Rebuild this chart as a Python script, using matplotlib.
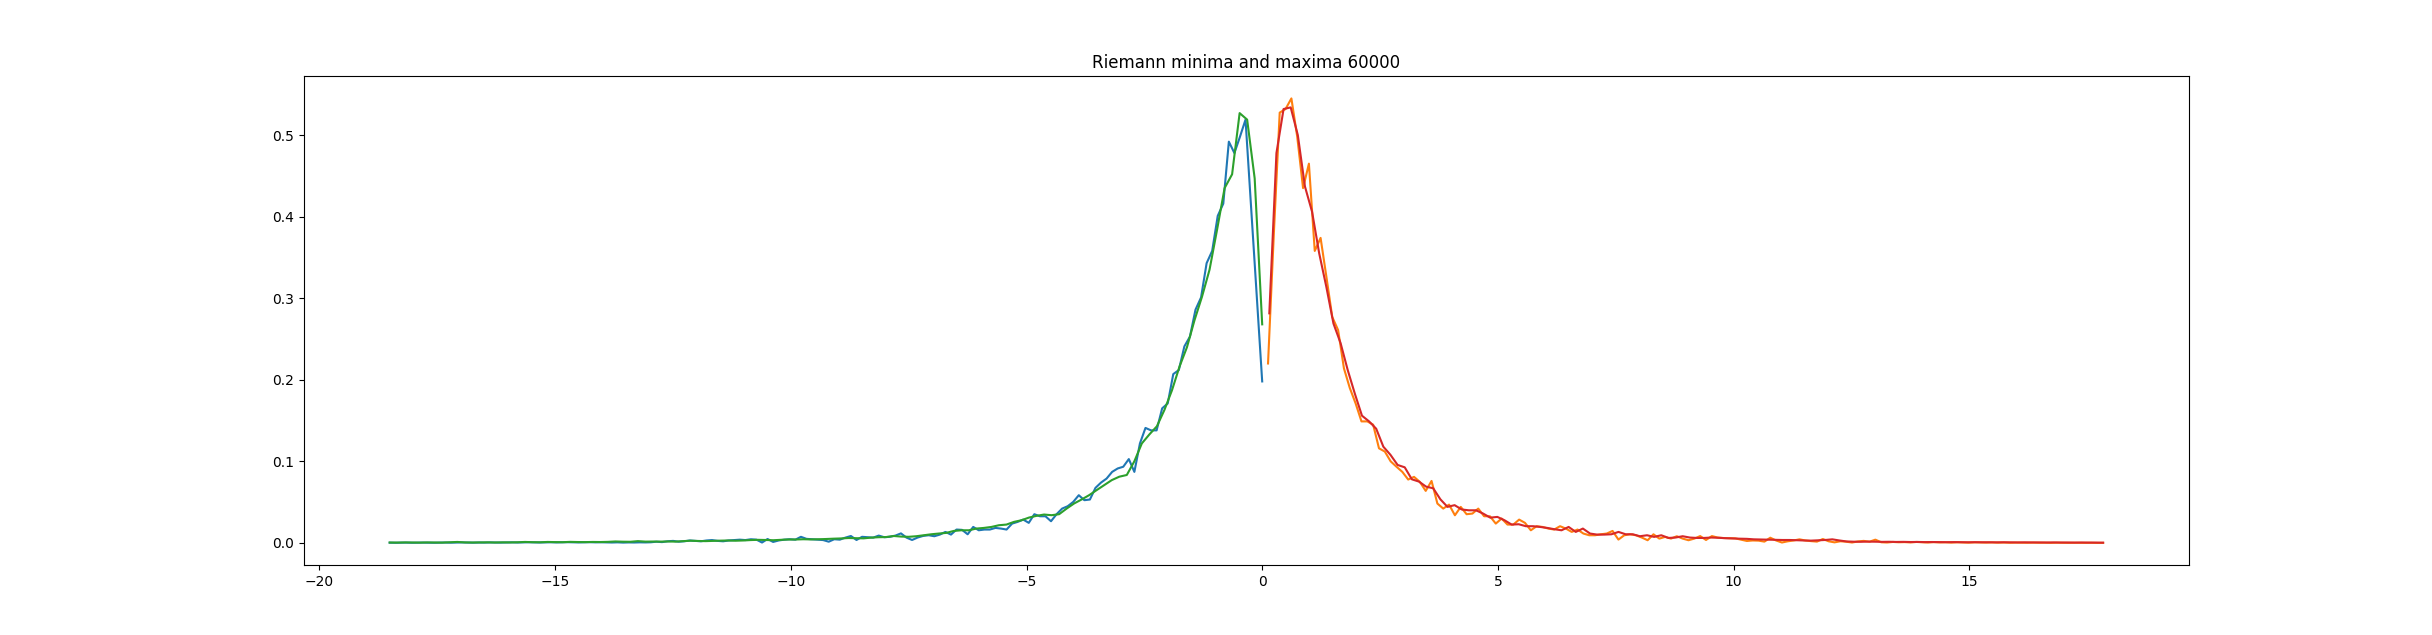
import matplotlib
matplotlib.use("Agg")
import matplotlib.pyplot as plt
import numpy as np

# histogram curves (x = right bin edges)
minima_fine = [
    0.0003, 0.0002, 0.0003, 0.0004, 0.0002, 0.0003, 0.0004, 0.0003, 0.0002, 0.0004,
    0.0005, 0.0003, 0.0004, 0.0006, 0.0004, 0.0003, 0.0005, 0.0004, 0.0006, 0.0005,
    0.0004, 0.0006, 0.0007, 0.0005, 0.0006, 0.0008, 0.0006, 0.0005, 0.0007, 0.0008,
    0.0006, 0.0007, 0.0009, 0.0007, 0.0006, 0.0008, 0.0009, 0.0007, 0.0008, 0.0006,
    0.0005, 0.0007, 0.0004, 0.0006, 0.0005, 0.0007, 0.0006, 0.0008,
    0.0015, 0.001, 0.002, 0.0025, 0.0015, 0.002, 0.003, 0.0025, 0.002, 0.003,
    0.0035, 0.0025, 0.002, 0.003, 0.0035, 0.004, 0.0035, 0.0045, 0.004, 0.0005,
    0.0048, 0.0012, 0.003, 0.004, 0.0045, 0.004, 0.0075, 0.005, 0.0045, 0.004,
    0.0035, 0.0015, 0.0045, 0.004, 0.0065, 0.0085, 0.0036, 0.0075, 0.007, 0.0065,
    0.009, 0.007, 0.0075, 0.009, 0.0117,
    0.0065, 0.0036, 0.0066, 0.0086, 0.0094, 0.0082, 0.0102, 0.0135, 0.0102, 0.0164,
    0.0160, 0.0106, 0.0196, 0.0155, 0.0164, 0.0164, 0.0184, 0.0176, 0.0164, 0.0237,
    0.0258, 0.0286, 0.0246, 0.0352, 0.0327, 0.0327, 0.0266, 0.0352, 0.0421, 0.045,
    0.0503, 0.0585, 0.0524, 0.0532, 0.0675, 0.074, 0.0789, 0.0871, 0.0913, 0.0934,
    0.1028, 0.0871, 0.122, 0.141, 0.138, 0.138,
    0.165, 0.171, 0.207, 0.212, 0.241, 0.253, 0.286, 0.301, 0.343, 0.358,
    0.401, 0.416, 0.492, 0.478, 0.498, 0.519, 0.412, 0.305, 0.198,
]

maxima_fine = [
    0.220, 0.38, 0.5276, 0.532, 0.545, 0.498, 0.435, 0.465, 0.358, 0.374,
    0.326, 0.277, 0.261, 0.214, 0.19, 0.171, 0.149, 0.149, 0.145, 0.116,
    0.112, 0.1, 0.0934, 0.0871, 0.0777, 0.081, 0.0748, 0.0638, 0.076, 0.0483,
    0.0421, 0.047, 0.0339, 0.0442, 0.0352, 0.036, 0.0421, 0.0327, 0.0327, 0.0237,
    0.0299, 0.0225, 0.0225, 0.0286, 0.0246, 0.0155, 0.0205, 0.0196, 0.0176, 0.0164,
    0.0205, 0.0176, 0.0135, 0.0164, 0.0115, 0.0094, 0.0094, 0.0106, 0.0115, 0.0147,
    0.0041, 0.0094, 0.0106, 0.0094, 0.0066, 0.0033, 0.0106, 0.0053, 0.0074, 0.0053,
    0.0082, 0.0053, 0.0033, 0.0053,
    0.0084, 0.0036, 0.0084, 0.0066, 0.006, 0.0058, 0.0056, 0.004, 0.0024, 0.003,
    0.0028, 0.0016, 0.0064, 0.003, 0.0005, 0.002, 0.003, 0.0044, 0.003, 0.0022,
    0.0016, 0.0048, 0.002, 0.0007, 0.002, 0.0015, 0.0005, 0.0018, 0.0025, 0.0015,
    0.004, 0.0008, 0.0005,
    0.0012, 0.0008, 0.001, 0.0006, 0.0012, 0.0008, 0.0005, 0.001, 0.0006, 0.0008,
    0.0004, 0.0008, 0.0006, 0.0003, 0.0007, 0.0005, 0.0004, 0.0006, 0.0003, 0.0005,
    0.0002, 0.0004, 0.0003, 0.0002, 0.0004, 0.0002, 0.0003, 0.0001, 0.0003, 0.0002,
    0.0001, 0.0002, 0.0001, 0.0001, 0.0002, 0.0, 0.0001,
]

minima_coarse = [
    0.0005, 0.0004, 0.0006, 0.0005, 0.0004, 0.0006, 0.0005, 0.0004, 0.0008, 0.0012,
    0.0006, 0.0005, 0.0006, 0.0007, 0.0005, 0.0007, 0.0006, 0.0008, 0.0012, 0.0009,
    0.0008, 0.0012, 0.001, 0.0009, 0.0013, 0.0011, 0.001, 0.0012, 0.0011, 0.0013,
    0.0018, 0.0015, 0.0014, 0.0022, 0.0016, 0.0017,
    0.0016, 0.0018, 0.0016, 0.0022, 0.0027, 0.0024, 0.0022, 0.0025, 0.0028, 0.003,
    0.0027, 0.003, 0.0035, 0.0038, 0.0036, 0.0033, 0.0038, 0.0042, 0.0042, 0.0045,
    0.0043, 0.0045, 0.0048, 0.0052, 0.0055, 0.006, 0.0058, 0.0056, 0.0065, 0.007,
    0.0072, 0.0085,
    0.0078, 0.0075, 0.0082, 0.0094, 0.0106, 0.0115, 0.0123, 0.0147, 0.0155, 0.0155,
    0.0176, 0.0184, 0.0196, 0.0217, 0.0225, 0.0258, 0.0278, 0.0311, 0.0332, 0.0348,
    0.034, 0.0352, 0.0421, 0.0484, 0.0533, 0.0586, 0.0648, 0.0709, 0.077, 0.0812,
    0.0833, 0.1, 0.122, 0.133, 0.143, 0.163, 0.187, 0.216, 0.24, 0.273,
    0.302, 0.335, 0.384, 0.435, 0.452, 0.527, 0.519, 0.447, 0.268,
]

maxima_coarse = [
    0.2815, 0.478, 0.532, 0.534, 0.5, 0.437, 0.406, 0.355, 0.314, 0.269,
    0.245, 0.212, 0.183, 0.156, 0.149, 0.14, 0.118, 0.108, 0.0956, 0.0927,
    0.078, 0.0752, 0.069, 0.067, 0.0535, 0.0442, 0.0463, 0.041, 0.04, 0.04,
    0.036, 0.031, 0.0319, 0.0278, 0.0225, 0.0229, 0.0205, 0.0205, 0.0196, 0.0184,
    0.0168, 0.0155, 0.0196, 0.0135, 0.0176, 0.0115, 0.0102, 0.0102, 0.0106, 0.0135,
    0.0106, 0.0106, 0.0082, 0.0094, 0.0074, 0.0094, 0.0061, 0.0066, 0.0082, 0.0066,
    0.0061, 0.0061,
    0.0066, 0.0063, 0.0058, 0.0055, 0.0052, 0.005, 0.0044, 0.0042, 0.004, 0.0038,
    0.0036, 0.0036, 0.0033, 0.003, 0.0028, 0.0032, 0.0036, 0.0044, 0.003, 0.0018,
    0.0015, 0.0014, 0.0016, 0.0015, 0.0013, 0.0014, 0.0012, 0.0013, 0.0011, 0.0012,
    0.001, 0.0011, 0.001, 0.0009, 0.001, 0.0009, 0.0008, 0.0009, 0.0008, 0.0008,
    0.0007, 0.0008, 0.0007, 0.0006, 0.0007, 0.0006, 0.0006, 0.0005, 0.0006, 0.0005,
    0.0005, 0.0004, 0.0005, 0.0004, 0.0004, 0.0003,
]

# bin edge ranges
min_lo, min_hi = -18.51, 0.0
max_hi = 17.84

x_min_fine = np.linspace(min_lo, min_hi, len(minima_fine))
x_min_coarse = np.linspace(min_lo, min_hi, len(minima_coarse))
x_max_fine = np.linspace(max_hi / len(maxima_fine), max_hi, len(maxima_fine))
x_max_coarse = np.linspace(max_hi / len(maxima_coarse), max_hi, len(maxima_coarse))

fig = plt.figure(figsize=(24.32, 6.35), dpi=100)
plt.plot(x_min_fine, minima_fine)
plt.plot(x_max_fine, maxima_fine)
plt.plot(x_min_coarse, minima_coarse)
plt.plot(x_max_coarse, maxima_coarse)
plt.title('Riemann minima and maxima 60000')
plt.savefig('out.png', dpi=100)
